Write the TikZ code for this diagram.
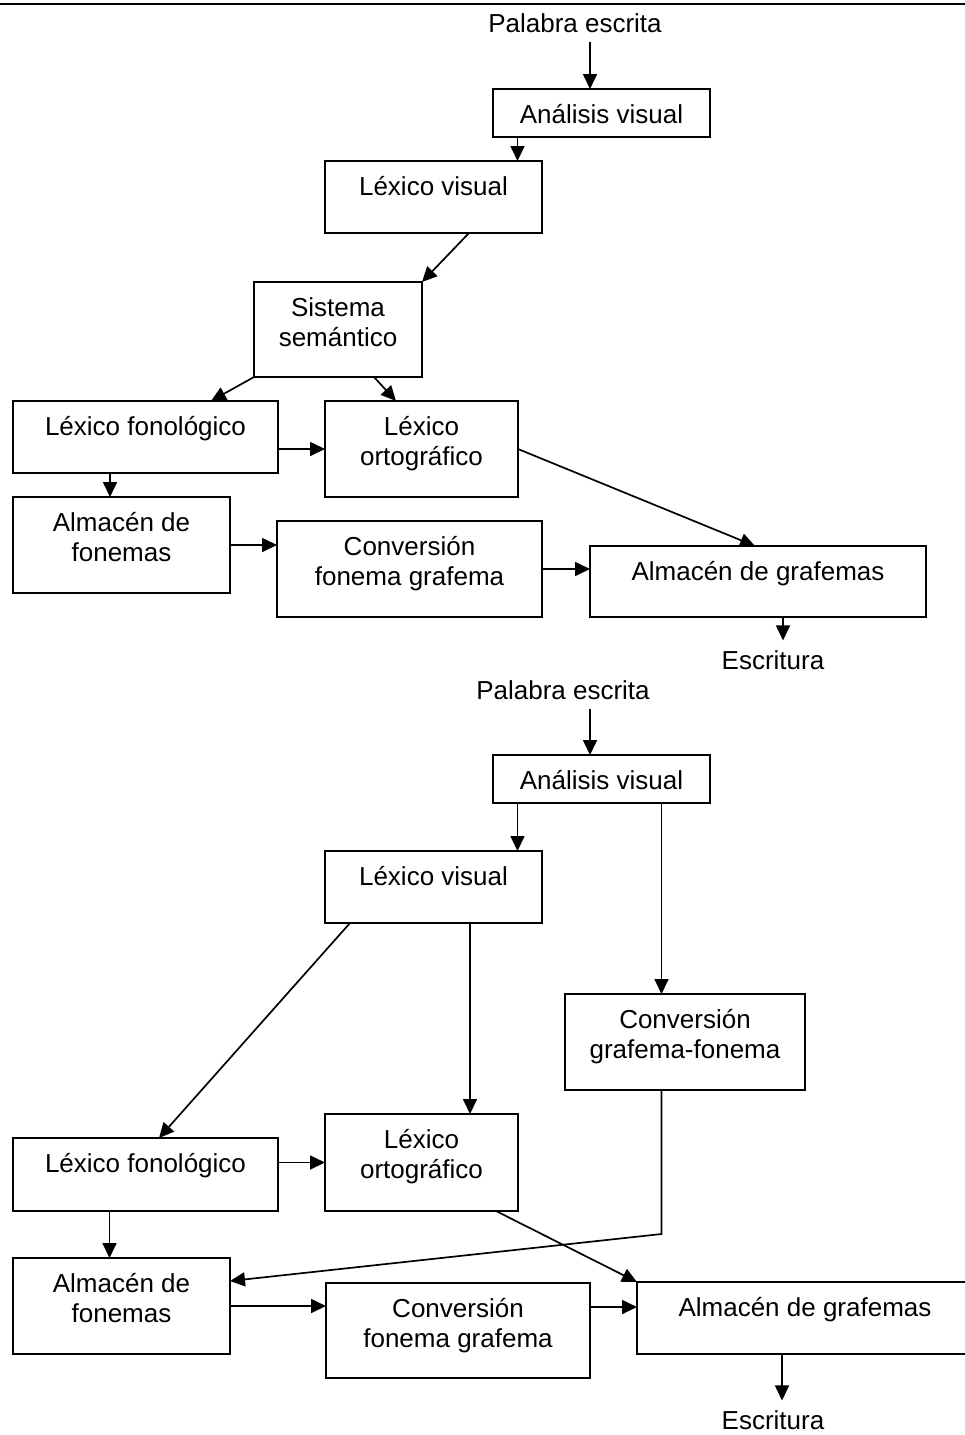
\documentclass[tikz,border=0pt]{standalone}
\usepackage{fontspec}
\setmainfont{Liberation Sans}
\usetikzlibrary{arrows.meta}

% box content: fixed-size parbox, text hung from the top edge
\newcommand\flowtext[3]{\parbox[c][#2][t]{#1}{\centering\rule{0pt}{34pt}#3}}

\tikzset{
  box/.style={draw, line width=1.8pt, inner sep=0pt, outer sep=0pt,
              font=\fontsize{26}{30}\selectfont},
  lbl/.style={inner sep=9.5pt, anchor=base, font=\fontsize{26}{30}\selectfont},
  arr/.style={line width=1.7pt, -{Triangle[length=15pt,width=14pt]}},
}

\begin{document}
\begin{tikzpicture}[x=1pt,y=-1pt]
\useasboundingbox (0,0) rectangle (965,1435);
\fill[white] (0,0) rectangle (965,1435);

% rule along the top edge
\coordinate (ruleL) at (0,4);
\coordinate (ruleR) at (965,4);
\draw[line width=2pt] (ruleL) -- (ruleR);

% ---------------- upper model ----------------
\node[lbl] (pal1) at (575,32) {Palabra escrita};
\node[box] (av1) at (601.5,113)   {\flowtext{217pt}{48pt}{Análisis visual}};
\node[box] (lv1) at (433.5,197)   {\flowtext{217pt}{72pt}{Léxico visual}};
\node[box] (ss1) at (338,329.5)   {\flowtext{168pt}{95pt}{Sistema\\semántico}};
\node[box] (lf1) at (145.5,437)   {\flowtext{265pt}{72pt}{Léxico fonológico}};
\node[box] (lo1) at (421.5,449)   {\flowtext{193pt}{96pt}{Léxico\\ortográfico}};
\node[box] (af1) at (121.5,545)   {\flowtext{217pt}{96pt}{Almacén de\\fonemas}};
\node[box] (cf1) at (409.5,569)   {\flowtext{265pt}{96pt}{Conversión\\fonema grafema}};
\node[box] (ag1) at (758,581.5)   {\flowtext{336pt}{71pt}{Almacén de grafemas}};
\node[lbl] (esc1) at (773,669) {Escritura};

\draw[arr] ([xshift=-11.5pt]av1.north |- pal1.south) -- ([xshift=-11.5pt]av1.north);
\draw[arr] ([xshift=-84pt]av1.south) -- ([xshift=-84pt]av1.south |- lv1.north);
\draw[arr] ([xshift=35.5pt]lv1.south) -- (ss1.north east);
\draw[arr] (ss1.south west) -- ([xshift=65.5pt]lf1.north);
\draw[arr] ([xshift=36pt]ss1.south) -- ([xshift=-25.5pt]lo1.north);
\draw[arr] (lf1.east |- lo1.west) -- (lo1.west);
\draw[arr] (lo1.east) -- ([xshift=-3pt]ag1.north);
\draw[arr] ([xshift=-35.5pt]lf1.south) -- ([xshift=-35.5pt]lf1.south |- af1.north);
\draw[arr] (af1.east) -- (cf1.west |- af1.east);
\draw[arr] (cf1.east) -- (ag1.west |- cf1.east);
\draw[arr] ([xshift=25pt]ag1.south) -- ([xshift=25pt]ag1.south |- esc1.north);

% ---------------- lower model ----------------
\node[lbl] (pal2) at (563,699) {Palabra escrita};
\node[box] (av2) at (601.5,779)   {\flowtext{217pt}{48pt}{Análisis visual}};
\node[box] (lv2) at (433.5,887)   {\flowtext{217pt}{72pt}{Léxico visual}};
\node[box] (cg2) at (685,1042)    {\flowtext{240pt}{96pt}{Conversión\\grafema-fonema}};
\node[box] (lf2) at (145.5,1174.5){\flowtext{265pt}{73pt}{Léxico fonológico}};
\node[box] (lo2) at (421.5,1162.5){\flowtext{193pt}{97pt}{Léxico\\ortográfico}};
\node[box] (af2) at (121.5,1306)  {\flowtext{217pt}{96pt}{Almacén de\\fonemas}};
\node[box] (cf2) at (458,1330.5)  {\flowtext{264pt}{95pt}{Conversión\\fonema grafema}};
\node[box] (ag2) at (805,1318)    {\flowtext{336pt}{72pt}{Almacén de grafemas}};
\node[lbl] (esc2) at (773,1429) {Escritura};

\coordinate (cgbend) at ([xshift=-23.5pt,yshift=-144pt]cg2.south);
\coordinate (cfout) at ([yshift=23.5pt]cf2.east);

\draw[arr] ([xshift=-11.5pt]av2.north |- pal2.south) -- ([xshift=-11.5pt]av2.north);
\draw[arr] ([xshift=-84pt]av2.south) -- ([xshift=-84pt]av2.south |- lv2.north);
\draw[arr] ([xshift=60pt]av2.south) -- ([xshift=60pt]av2.south |- cg2.north);
\draw[arr] ([xshift=-83.5pt]lv2.south) -- ([xshift=13.5pt]lf2.north);
\draw[arr] ([xshift=36.5pt]lv2.south) -- ([xshift=36.5pt]lv2.south |- lo2.north);
\draw[arr] ([xshift=-23.5pt]cg2.south) -- (cgbend) -- ([yshift=25pt]af2.east);
\draw[arr] (lf2.east |- lo2.west) -- (lo2.west);
\draw[arr] ([xshift=-36pt]lf2.south) -- ([xshift=-36pt]lf2.south |- af2.north);
\draw[arr] ([xshift=74.5pt]lo2.south) -- (ag2.north west);
\draw[arr] (af2.east) -- (cf2.west |- af2.east);
\draw[arr] (cfout) -- (ag2.west |- cfout);
\draw[arr] ([xshift=-23pt]ag2.south) -- ([xshift=-23pt]ag2.south |- esc2.north);
\end{tikzpicture}
\end{document}
